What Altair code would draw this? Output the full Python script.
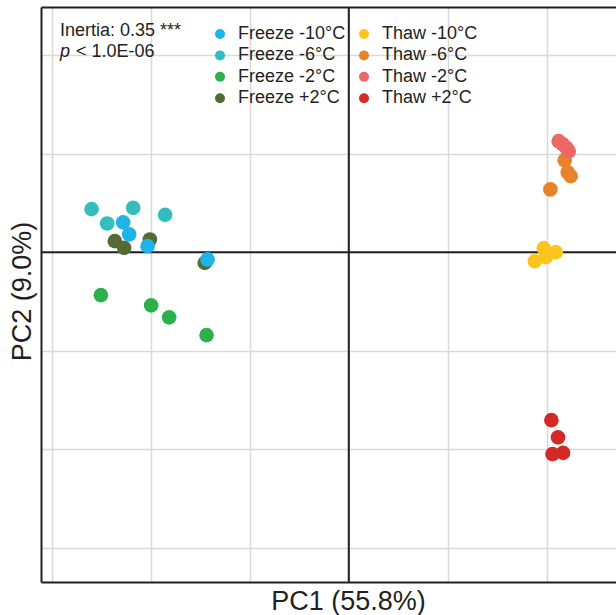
import altair as alt
import pandas as pd

# Sample groups (draw order) and their PCA scores (grid unit = 1)
groups = (["Freeze -6°C"] * 4 + ["Freeze +2°C"] * 4 + ["Freeze -10°C"] * 4 +
          ["Freeze -2°C"] * 4 + ["Thaw -10°C"] * 4 + ["Thaw -6°C"] * 4 +
          ["Thaw -2°C"] * 4 + ["Thaw +2°C"] * 4)
pc1 = [-2.599, -2.179, -2.441, -1.856,
       -2.364, -2.270, -2.010, -1.455,
       -2.280, -2.219, -2.033, -1.427,
       -2.505, -1.997, -1.815, -1.437,
       1.970, 2.091, 1.879, 1.990,
       2.182, 2.212, 2.242, 2.037,
       2.121, 2.162, 2.202, 2.222,
       2.047, 2.114, 2.058, 2.165]
pc2 = [0.437, 0.450, 0.291, 0.379,
       0.112, 0.044, 0.129, -0.109,
       0.302, 0.180, 0.061, -0.074,
       -0.437, -0.541, -0.663, -0.843,
       0.041, 0.000, -0.091, -0.051,
       0.934, 0.812, 0.772, 0.637,
       1.127, 1.096, 1.056, 1.025,
       -1.706, -1.881, -2.051, -2.038]

# Legend order (fills column by column in a 2-column legend)
legend_order = ["Freeze -10°C", "Freeze -6°C", "Freeze -2°C", "Freeze +2°C",
                "Thaw -10°C", "Thaw -6°C", "Thaw -2°C", "Thaw +2°C"]
legend_colors = ["#1EB3E9", "#35BDBD", "#2BB04B", "#556B33",
                 "#FCC51E", "#E8832A", "#EE6767", "#D42A26"]

grid_x = [-3, -2, -1, 0, 1, 2]
grid_y = [-3, -2, -1, 0, 1, 2]
zero = [0]
x_domain = [-3.11, 2.70]
y_domain = [-3.35, 2.49]

inertia_text = ["Inertia: 0.35 ***"]
p_symbol = ["p"]
p_text = ["< 1.0E-06"]

FONT = "Liberation Sans"
DARK = "#231F20"

df = pd.DataFrame({"group": groups, "PC1": pc1, "PC2": pc2})
zdf = pd.DataFrame({"z": zero})

xscale = alt.Scale(domain=x_domain, nice=False, zero=False)
yscale = alt.Scale(domain=y_domain, nice=False, zero=False)

points = alt.Chart(df).mark_circle(size=215, opacity=1).encode(
    x=alt.X("PC1:Q", scale=xscale,
            axis=alt.Axis(values=grid_x, labels=False, ticks=False,
                          grid=True, gridColor="#D9D9D9", gridWidth=1.5,
                          domainColor=DARK, domainWidth=2,
                          title="PC1 (55.8%)", titleFont=FONT,
                          titleFontSize=27, titleFontWeight="normal",
                          titleColor=DARK, titleX=307, titleY=27,
                          titleAnchor="middle", titleBaseline="alphabetic")),
    y=alt.Y("PC2:Q", scale=yscale,
            axis=alt.Axis(values=grid_y, labels=False, ticks=False,
                          grid=True, gridColor="#D9D9D9", gridWidth=1.5,
                          domainColor=DARK, domainWidth=2,
                          title="PC2 (9.0%)", titleFont=FONT,
                          titleFontSize=27, titleFontWeight="normal",
                          titleColor=DARK, titleX=-11, titleY=284,
                          titleAngle=-90, titleAlign="center",
                          titleBaseline="alphabetic")),
    color=alt.Color("group:N",
                    scale=alt.Scale(domain=legend_order, range=legend_colors),
                    legend=alt.Legend(orient="none", legendX=170, legendY=18,
                                      columns=2, title=None,
                                      symbolType="circle", symbolSize=100,
                                      symbolStrokeWidth=0, symbolOpacity=1,
                                      labelFont=FONT, labelFontSize=18,
                                      labelColor=DARK, labelOffset=9,
                                      rowPadding=3.4, columnPadding=9)),
    order=alt.Order("idx:Q"),
).transform_window(idx="row_number()")

zero_v = alt.Chart(zdf).mark_rule(color=DARK, strokeWidth=2).encode(
    x=alt.X("z:Q", scale=xscale, axis=None))
zero_h = alt.Chart(zdf).mark_rule(color=DARK, strokeWidth=2).encode(
    y=alt.Y("z:Q", scale=yscale, axis=None))

top_axis = alt.Chart(zdf).mark_rule(opacity=0).encode(
    x=alt.X("z:Q", scale=xscale,
            axis=alt.Axis(orient="top", labels=False, ticks=False, grid=False,
                          domainColor=DARK, domainWidth=2, title=None)))

t1 = alt.Chart(pd.DataFrame({"t": inertia_text})).mark_text(
    align="left", baseline="alphabetic", font=FONT, fontSize=18, color=DARK
).encode(text="t:N", x=alt.value(19), y=alt.value(29))
t2 = alt.Chart(pd.DataFrame({"t": p_symbol})).mark_text(
    align="left", baseline="alphabetic", font=FONT, fontSize=18, color=DARK,
    fontStyle="italic"
).encode(text="t:N", x=alt.value(19), y=alt.value(50))
t3 = alt.Chart(pd.DataFrame({"t": p_text})).mark_text(
    align="left", baseline="alphabetic", font=FONT, fontSize=18, color=DARK
).encode(text="t:N", x=alt.value(35), y=alt.value(50))

chart = alt.layer(top_axis, zero_v, zero_h, points, t1, t2, t3).resolve_axis(
    x="independent", y="independent"
).properties(
    width=575, height=575,
    autosize=alt.AutoSizeParams(type="none"),
    padding={"left": 41, "top": 7, "right": 0, "bottom": 33},
).configure_view(stroke=None).configure(background="white")

chart.save("out.html", embed_options={"renderer": "svg", "actions": False})
